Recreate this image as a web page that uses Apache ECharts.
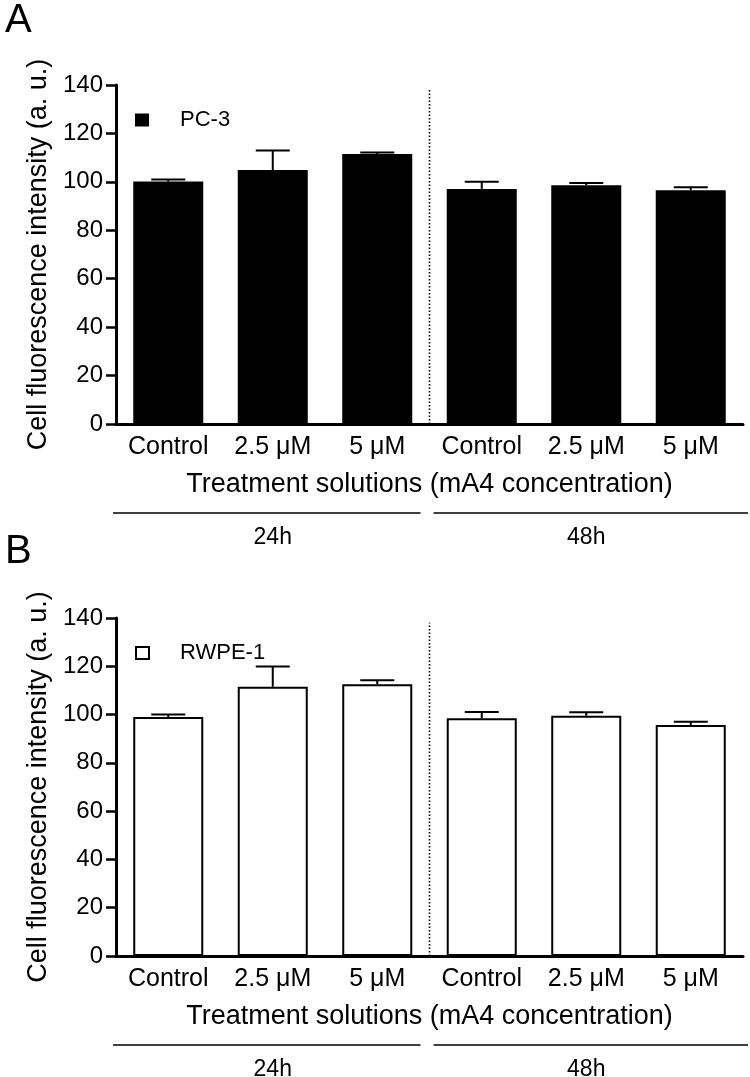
<!DOCTYPE html>
<html>
<head>
<meta charset="utf-8">
<script src="https://cdn.jsdelivr.net/npm/echarts@6/dist/echarts.min.js"></script>
<style>
html, body { margin: 0; padding: 0; background: #fff; }
#chart { width: 750px; height: 1077px; }
</style>
</head>
<body>
<div id="chart"></div>
<script>
// data
var categories = ['Control', '2.5 μM', '5 μM', 'Control', '2.5 μM', '5 μM'];
var groups = ['24h', '48h'];
var pc3Mean = [100.1, 104.9, 111.5, 97.1, 98.6, 96.5];
var pc3Err = [0.9, 8.0, 0.6, 2.9, 0.9, 1.3];
var rwpeMean = [99.0, 111.5, 112.6, 98.5, 99.5, 95.7];
var rwpeErr = [1.0, 8.4, 1.6, 2.6, 1.5, 1.3];
var yMin = 0, yMax = 140, yStep = 20;
var dividerTop = 138;

var chart = echarts.init(document.getElementById('chart'));

function errData(mean, err) {
    return mean.map(function(m, i) { return [i, m, err[i]]; });
}

function renderError(params, api) {
    var i = api.value(0), m = api.value(1), e = api.value(2);
    var p0 = api.coord([i, m]);
    var p1 = api.coord([i, m + e]);
    var st = { stroke: '#000', lineWidth: 2 };
    return {
        type: 'group',
        children: [
            { type: 'line', shape: { x1: p0[0], y1: p0[1], x2: p1[0], y2: p1[1] }, style: st },
            { type: 'line', shape: { x1: p1[0] - 17, y1: p1[1], x2: p1[0] + 17, y2: p1[1] }, style: st }
        ]
    };
}

function renderDivider(params, api) {
    var i = api.value(0);
    var w = api.size([1, 0])[0];
    var p0 = api.coord([i, 0]);
    var p1 = api.coord([i, api.value(1)]);
    var x = p0[0] + w / 2;
    return {
        type: 'line',
        shape: { x1: x, y1: p0[1], x2: x, y2: p1[1] },
        style: { stroke: '#000', lineWidth: 1.6, lineDash: [1.5, 2] }
    };
}

// group brackets under the axis (24h / 48h)
function renderGroup(params, api) {
    var i = api.value(0);
    var w = api.size([1, 0])[0];
    var base = api.coord([i, 0]);
    var x0 = base[0] - w / 2;
    var x1 = x0 + 3 * w;
    var pad = params.dataIndex === 0 ? [-3, -9] : [4, 5];
    return {
        type: 'group',
        children: [
            { type: 'line', shape: { x1: x0 + pad[0], y1: base[1] + 89, x2: x1 + pad[1], y2: base[1] + 89 },
              style: { stroke: '#000', lineWidth: 1.5 } },
            { type: 'text', x: (x0 + x1) / 2, y: base[1] + 114,
              style: { text: groups[params.dataIndex], fill: '#000', fontSize: 23,
                       fontFamily: 'Liberation Sans, Arial, sans-serif', align: 'center', verticalAlign: 'middle' } }
        ]
    };
}

function xAxisFor(idx) {
    return {
        type: 'category',
        gridIndex: idx,
        data: categories,
        name: 'Treatment solutions (mA4 concentration)',
        nameLocation: 'middle',
        nameGap: 47,
        nameTextStyle: { fontSize: 27, color: '#000' },
        axisLine: { lineStyle: { color: '#000', width: 3 } },
        axisTick: { show: false },
        axisLabel: { fontSize: 25, color: '#000', margin: 11, interval: 0 },
        splitLine: { show: false }
    };
}

function yAxisFor(idx) {
    return {
        type: 'value',
        gridIndex: idx,
        min: yMin,
        max: yMax,
        interval: yStep,
        name: 'Cell fluorescence intensity (a. u.)',
        nameLocation: 'middle',
        nameRotate: 90,
        nameGap: 62,
        nameTextStyle: { fontSize: 27, color: '#000' },
        axisLine: { show: true, lineStyle: { color: '#000', width: 3 } },
        axisTick: { show: true, length: 10, lineStyle: { color: '#000', width: 2.5 } },
        axisLabel: { fontSize: 24, color: '#000', margin: 13 },
        splitLine: { show: false }
    };
}

var option = {
    animation: false,
    backgroundColor: '#fff',
    textStyle: { fontFamily: 'Liberation Sans, Arial, sans-serif' },
    title: [
        { text: 'A', left: 0, top: -4, textStyle: { fontSize: 40, fontWeight: 'normal', color: '#000' } },
        { text: 'B', left: 0, top: 527, textStyle: { fontSize: 40, fontWeight: 'normal', color: '#000' } }
    ],
    legend: [
        { data: ['PC-3'], left: 130, top: 104, icon: 'rect', itemWidth: 14, itemHeight: 13, selectedMode: false,
          textStyle: { fontSize: 22, color: '#000', padding: [0, 0, 0, 26] } },
        { data: ['RWPE-1'], left: 130, top: 637, icon: 'rect', itemWidth: 13, itemHeight: 12, selectedMode: false,
          textStyle: { fontSize: 22, color: '#000', padding: [0, 0, 0, 26] } }
    ],
    grid: [
        { left: 116, right: 7, top: 85, height: 339 },
        { left: 116, right: 7, top: 618, height: 338 }
    ],
    xAxis: [xAxisFor(0), xAxisFor(1)],
    yAxis: [yAxisFor(0), yAxisFor(1)],
    series: [
        {
            name: 'PC-3', type: 'bar', xAxisIndex: 0, yAxisIndex: 0,
            barWidth: '67%', data: pc3Mean,
            itemStyle: { color: '#000' }
        },
        {
            name: 'PC-3 err', type: 'custom', xAxisIndex: 0, yAxisIndex: 0,
            renderItem: renderError, data: errData(pc3Mean, pc3Err), z: 3
        },
        {
            name: 'RWPE-1', type: 'bar', xAxisIndex: 1, yAxisIndex: 1,
            barWidth: '67%', data: rwpeMean,
            itemStyle: { color: '#fff', borderColor: '#000', borderWidth: 2 }
        },
        {
            name: 'RWPE-1 err', type: 'custom', xAxisIndex: 1, yAxisIndex: 1,
            renderItem: renderError, data: errData(rwpeMean, rwpeErr), z: 3
        },
        {
            type: 'custom', xAxisIndex: 0, yAxisIndex: 0, renderItem: renderDivider,
            data: [[2, dividerTop]], silent: true
        },
        {
            type: 'custom', xAxisIndex: 1, yAxisIndex: 1, renderItem: renderDivider,
            data: [[2, dividerTop]], silent: true
        },
        {
            type: 'custom', xAxisIndex: 0, yAxisIndex: 0, renderItem: renderGroup, clip: false,
            data: [[0, 0], [3, 0]], silent: true
        },
        {
            type: 'custom', xAxisIndex: 1, yAxisIndex: 1, renderItem: renderGroup, clip: false,
            data: [[0, 0], [3, 0]], silent: true
        }
    ]
};

chart.setOption(option);
window.addEventListener('resize', function() {
    chart.resize();
});
</script>
</body>
</html>
